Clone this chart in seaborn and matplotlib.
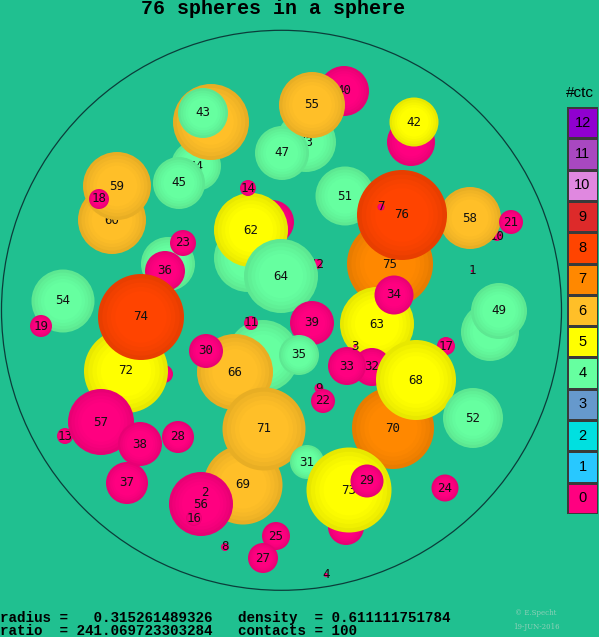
import numpy as np
import matplotlib
matplotlib.use("Agg")
import matplotlib.pyplot as plt
import matplotlib.colors as mcolors
from matplotlib.patches import Circle
import seaborn as sns

# colours for number of contacts 0..12
ctc_colors = ["#ff0080", "#28c8ff", "#00e0e0", "#6699cc", "#66ffa0", "#ffff00",
              "#ffbf28", "#ff8800", "#ff4400", "#dd2a2a", "#e088e0", "#a848c0", "#9000d0"]
bg = "#20c090"

# spheres, back to front (pixel coords of the picture)
nums = [53, 40, 47, 55, 44, 67, 43, 45, 60, 59, 18, 41, 42, 61, 20, 62, 14, 12, 64, 39,
        65, 11, 35, 66, 30, 51, 10, 58, 21, 75, 76, 7, 1, 48, 49, 63, 34, 32, 33, 3,
        17, 70, 68, 52, 9, 22, 46, 36, 23, 15, 72, 74, 54, 19, 13, 57, 37, 38, 28, 69,
        71, 31, 56, 16, 2, 8, 25, 27, 26, 73, 29, 24, 4]
xs = [306, 344, 282, 312, 196, 211, 203, 179, 112, 117, 99, 411, 414, 248, 272, 251, 248, 317, 281, 312,
      263, 251, 299, 235, 206, 345, 497, 470, 511, 390, 402, 381, 472, 490, 499, 377, 394, 372, 347, 355,
      446, 393, 416, 473, 319, 323, 168, 165, 183, 164, 126, 141, 63, 41, 65, 101, 127, 140, 178, 243,
      264, 307, 201, 194, 205, 225, 276, 263, 346, 349, 367, 445, 326]
ys = [142, 91, 153, 105, 166, 122, 113, 183, 220, 186, 199, 142, 122, 258, 222, 230, 188, 264, 276, 323,
      356, 323, 355, 372, 351, 196, 236, 218, 222, 264, 215, 207, 271, 332, 311, 324, 295, 367, 366, 346,
      346, 428, 380, 418, 388, 401, 264, 271, 243, 374, 371, 317, 301, 326, 436, 422, 483, 444, 437, 485,
      429, 462, 504, 518, 492, 547, 536, 558, 527, 490, 481, 488, 575]
rs = [30, 25, 27, 33, 25, 38, 25, 26, 34, 34, 10, 24, 24.5, 34, 22, 37, 8, 5, 37, 22,
      36, 7, 20, 38, 17, 29.5, 5, 31, 12, 43, 45, 3.5, 1, 29, 28, 37, 19.5, 19, 19, 1.5,
      9, 41, 40, 30, 4.5, 12, 27, 20, 13, 9, 42, 43, 31.5, 11, 8, 33, 21, 22, 16, 39.5,
      41.5, 17, 32, 8, 1, 4, 14, 15, 18, 42.5, 16.5, 13.5, 2]
ctc = [4, 0, 4, 6, 4, 6, 4, 4, 6, 6, 0, 0, 5, 4, 0, 5, 0, 0, 4, 0,
       4, 0, 4, 6, 0, 4, 0, 6, 0, 7, 8, 0, 0, 4, 4, 5, 0, 0, 0, 0,
       0, 7, 5, 4, 0, 0, 4, 0, 0, 0, 5, 8, 4, 0, 0, 0, 0, 0, 0, 6,
       6, 4, 0, 0, 0, 0, 0, 0, 0, 5, 0, 0, 0]
hidden = {67, 41, 61, 20, 65, 46, 15, 26}

legend_levels = list(range(12, -1, -1))

radius_txt = "radius =   0.315261489326   density  = 0.611111751784"
ratio_txt = "ratio  = 241.069723303284   contacts = 100"


def shade(c, f):
    r, g, b = mcolors.to_rgb(c)
    return (r * f, g * f, b * f)


fig = plt.figure(figsize=(5.99, 6.37), dpi=100, facecolor=bg)
ax = fig.add_axes([0, 0, 1, 1])
ax.set_facecolor(bg)
ax.set_xlim(0, 599)
ax.set_ylim(637, 0)
ax.axis("off")

ax.add_patch(Circle((281.5, 310.3), 280, fill=False, ec="#0b3d3a", lw=0.9, zorder=1))

# soft radial shading: darker rim, full colour in the middle
layers = [(1.0, 0.91), (0.9, 0.94), (0.8, 0.965), (0.7, 0.985), (0.6, 1.0)]

for i, (n, x, y, r, c) in enumerate(zip(nums, xs, ys, rs, ctc)):
    z = 2 + i * 0.01
    col = ctc_colors[c]
    for k, (fr, fc) in enumerate(layers):
        ax.add_patch(Circle((x, y), r * fr, color=shade(col, fc), lw=0, zorder=z + k * 0.0005))
    if n not in hidden:
        ax.text(x, y, str(n), ha="center", va="center", fontsize=9,
                family="DejaVu Sans Mono", color="#111111", zorder=z + 0.005)

ax.text(273, 8, "76 spheres in a sphere", ha="center", va="center", fontsize=14.4,
        family="Liberation Mono", weight="bold", color="black")
ax.text(0, 618, radius_txt, ha="left", va="center", fontsize=10.3,
        family="Liberation Mono", weight="bold", color="black")
ax.text(0, 631, ratio_txt, ha="left", va="center", fontsize=10.3,
        family="Liberation Mono", weight="bold", color="black")
ax.text(536, 613, "\u00a9 E.Specht", ha="center", va="center", fontsize=5,
        family="DejaVu Serif", color="#8fd0b8")
ax.text(536, 627, "19-JUN-2016", ha="center", va="center", fontsize=5,
        family="DejaVu Serif", color="#8fd0b8")
ax.text(566, 93, "#ctc", ha="left", va="center", fontsize=11,
        family="Liberation Sans", color="black")

# colour legend as a one-column heatmap
lax = fig.add_axes([567 / 599, (637 - 514) / 637, 31 / 599, 407 / 637])
cmap = mcolors.ListedColormap(ctc_colors)
sns.heatmap(np.array(legend_levels).reshape(-1, 1), ax=lax, cmap=cmap, vmin=-0.5, vmax=12.5,
            annot=True, fmt="d", cbar=False, xticklabels=False, yticklabels=False,
            linewidths=0.8, linecolor="#3a3a3a",
            annot_kws={"size": 10.5, "color": "black", "family": "Liberation Sans"})

fig.savefig("out.png", dpi=100, facecolor=bg)
